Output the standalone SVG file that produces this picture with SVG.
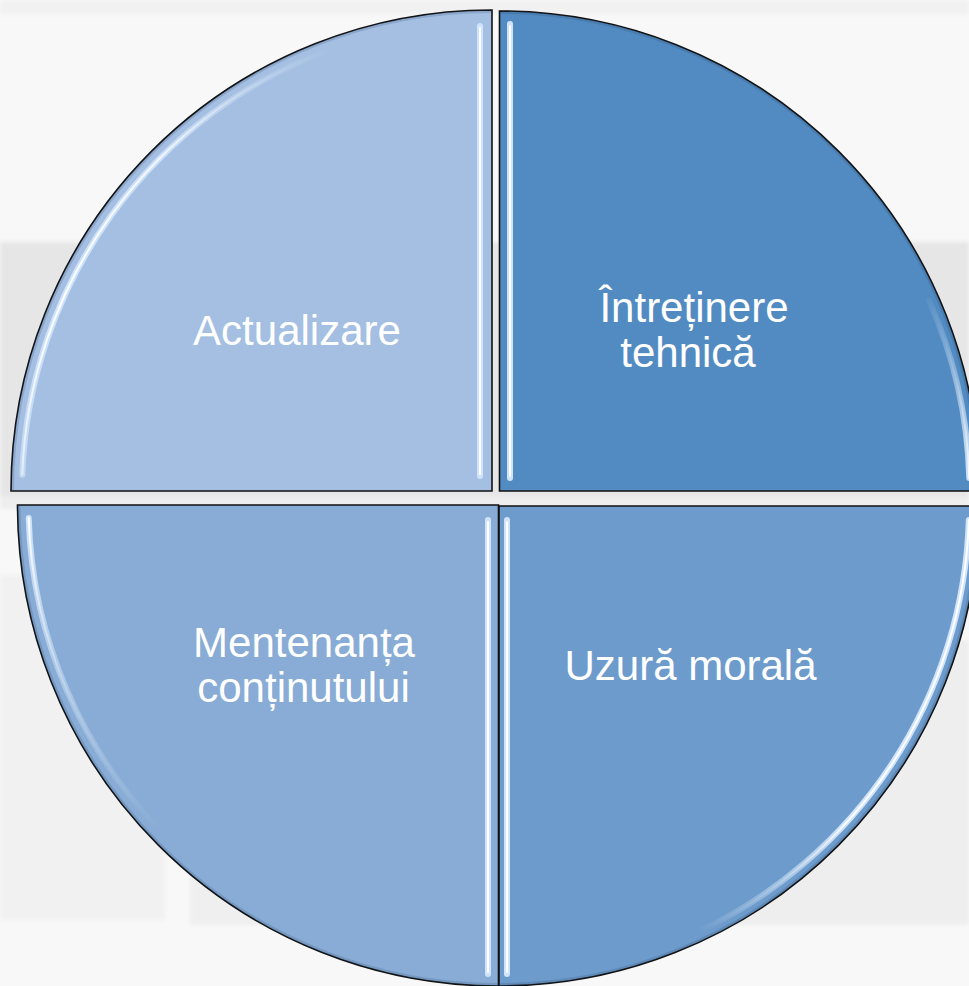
<svg xmlns="http://www.w3.org/2000/svg" width="969" height="986" viewBox="0 0 969 986">
<style>
.q{stroke:#111;stroke-width:1.6}
.rim{fill:none;stroke:#1f3f66;stroke-width:6;stroke-opacity:0.18}
.hl{fill:none;stroke:#cfe4fa;stroke-width:6;stroke-linecap:round}
.hc{fill:none;stroke:#ffffff;stroke-width:2;stroke-linecap:round}
.lbl{font-family:"Liberation Sans",Arial,sans-serif;font-size:42px;fill:#ffffff;text-anchor:middle}
</style>
<defs>
<filter id="soft" x="-5%" y="-5%" width="110%" height="110%"><feGaussianBlur stdDeviation="0.7"/></filter>
<filter id="bgblur" x="-5%" y="-5%" width="110%" height="110%"><feGaussianBlur stdDeviation="2"/></filter>
<linearGradient id="gTLarc" gradientUnits="userSpaceOnUse" x1="22" y1="475" x2="331" y2="49">
<stop offset="0" stop-color="#fff" stop-opacity="0.7"/><stop offset="0.3" stop-color="#fff" stop-opacity="1"/><stop offset="0.65" stop-color="#fff" stop-opacity="0.85"/><stop offset="1" stop-color="#fff" stop-opacity="0"/>
</linearGradient>
<linearGradient id="gTRarc" gradientUnits="userSpaceOnUse" x1="0" y1="290" x2="0" y2="478">
<stop offset="0" stop-color="#fff" stop-opacity="0"/><stop offset="1" stop-color="#fff" stop-opacity="1"/>
</linearGradient>
<linearGradient id="gBLarc" gradientUnits="userSpaceOnUse" x1="0" y1="518" x2="0" y2="830">
<stop offset="0" stop-color="#fff" stop-opacity="1"/><stop offset="1" stop-color="#fff" stop-opacity="0"/>
</linearGradient>
<linearGradient id="gBRarc" gradientUnits="userSpaceOnUse" x1="969" y1="519" x2="698" y2="932">
<stop offset="0" stop-color="#fff" stop-opacity="1"/><stop offset="0.65" stop-color="#fff" stop-opacity="1"/><stop offset="1" stop-color="#fff" stop-opacity="0"/>
</linearGradient>
<mask id="mTL" maskUnits="userSpaceOnUse" x="0" y="0" width="969" height="986"><rect width="969" height="986" fill="url(#gTLarc)"/></mask>
<mask id="mTR" maskUnits="userSpaceOnUse" x="0" y="0" width="969" height="986"><rect width="969" height="986" fill="url(#gTRarc)"/></mask>
<mask id="mBL" maskUnits="userSpaceOnUse" x="0" y="0" width="969" height="986"><rect width="969" height="986" fill="url(#gBLarc)"/></mask>
<mask id="mBR" maskUnits="userSpaceOnUse" x="0" y="0" width="969" height="986"><rect width="969" height="986" fill="url(#gBRarc)"/></mask>
<clipPath id="cTL"><path d="M492,491 L11,491 A481,481 0 0 1 492,10 Z"/></clipPath>
<clipPath id="cTR"><path d="M499.5,491 L499.5,11 A480,480 0 0 1 979.5,491 Z"/></clipPath>
<clipPath id="cBL"><path d="M498.5,505 L498.5,986 A481,481 0 0 1 17.5,505 Z"/></clipPath>
<clipPath id="cBR"><path d="M499,506 L979,506 A480,480 0 0 1 499,986 Z"/></clipPath>
</defs>

<g id="background">
<rect x="0" y="0" width="969" height="986" fill="#f8f8f8"/>
<g filter="url(#bgblur)">
<rect x="0" y="0" width="969" height="14" fill="#f1f1f1"/>
<rect x="0" y="242" width="969" height="255" fill="#e6e6e6"/>
<rect x="0" y="497" width="969" height="12" fill="#eeeeee"/>
<rect x="0" y="575" width="165" height="345" fill="#f1f1f1"/>
<rect x="190" y="590" width="300" height="335" fill="#efefef"/>
<rect x="700" y="640" width="269" height="285" fill="#eeeeee"/>
</g>
</g>

<g id="node-actualizare">
<path class="q" fill="#a4bfe2" d="M492,491 L11,491 A481,481 0 0 1 492,10 Z"/>
<g clip-path="url(#cTL)"><path class="rim" d="M492,10 A481,481 0 0 0 11,491"/></g>
<g filter="url(#soft)">
<g mask="url(#mTL)">
<path class="hl" d="M331.2,49.2 A470,470 0 0 0 22.3,474.6"/>
<path class="hc" d="M331.2,49.2 A470,470 0 0 0 22.3,474.6"/>
</g>
<path class="hl" d="M480,26 L480,476"/>
<path class="hc" d="M480,28 L480,474"/>
</g>
<text class="lbl" x="297" y="345">Actualizare</text>
</g>

<g id="node-intretinere">
<path class="q" fill="#528bc1" d="M499.5,491 L499.5,11 A480,480 0 0 1 979.5,491 Z"/>
<g clip-path="url(#cTR)"><path class="rim" d="M499.5,11 A480,480 0 0 1 979.5,491"/></g>
<g filter="url(#soft)">
<g mask="url(#mTR)">
<path class="hl" d="M928.9,300 A470,470 0 0 1 969.3,478"/>
<path class="hc" d="M928.9,300 A470,470 0 0 1 969.3,478"/>
</g>
<path class="hl" d="M510,24 L510,478"/>
<path class="hc" d="M510,26 L510,476"/>
</g>
<text class="lbl" x="694" y="322">Întreținere</text>
<text class="lbl" x="688" y="367">tehnică</text>
</g>

<g id="node-mentenanta">
<path class="q" fill="#88acd5" d="M498.5,505 L498.5,986 A481,481 0 0 1 17.5,505 Z"/>
<g clip-path="url(#cBL)"><path class="rim" d="M498.5,986 A481,481 0 0 1 17.5,505"/></g>
<g filter="url(#soft)">
<g mask="url(#mBL)">
<path class="hl" d="M28.7,518 A470,470 0 0 0 166.5,837"/>
<path class="hc" d="M28.7,518 A470,470 0 0 0 166.5,837"/>
</g>
<path class="hl" d="M488,520 L488,974"/>
<path class="hc" d="M488,522 L488,972"/>
</g>
<text class="lbl" x="304" y="657">Mentenanța</text>
<text class="lbl" x="303.5" y="702">conținutului</text>
</g>

<g id="node-uzura">
<path class="q" fill="#6d9bcb" d="M499,506 L979,506 A480,480 0 0 1 499,986 Z"/>
<g clip-path="url(#cBR)"><path class="rim" d="M979,506 A480,480 0 0 1 499,986"/></g>
<g filter="url(#soft)">
<g mask="url(#mBR)">
<path class="hl" d="M968.8,520 A470,470 0 0 1 697.6,932"/>
<path class="hc" d="M968.8,520 A470,470 0 0 1 697.6,932"/>
</g>
<path class="hl" d="M507,520 L507,974"/>
<path class="hc" d="M507,522 L507,972"/>
</g>
<text class="lbl" x="690.5" y="680">Uzură morală</text>
</g>

<g id="connectors"></g>
</svg>
